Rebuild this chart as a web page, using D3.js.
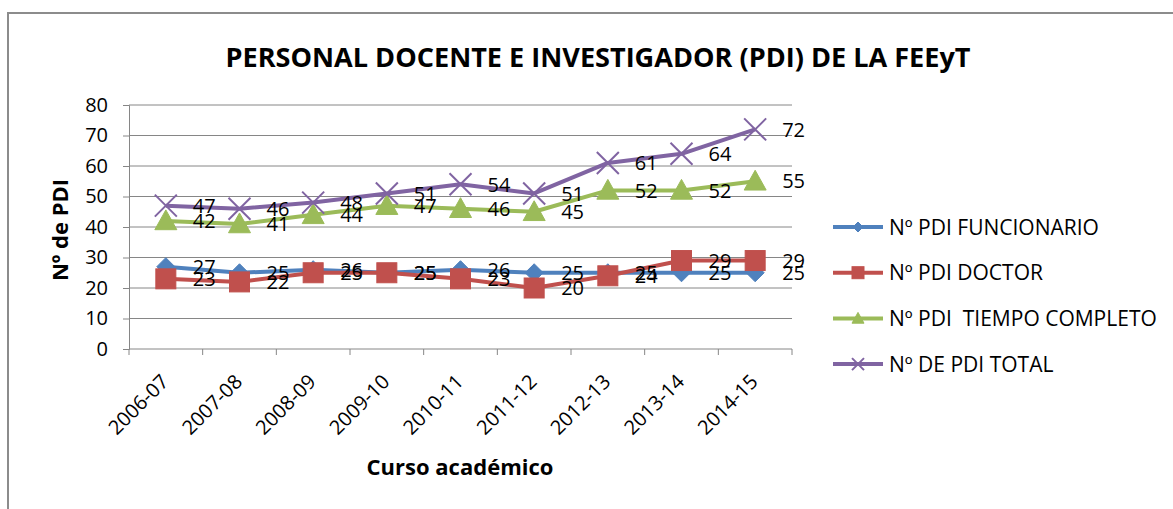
<!DOCTYPE html>
<html>
<head>
<meta charset="utf-8">
<script src="https://cdn.jsdelivr.net/npm/d3@7"></script>
<style>
  body { margin: 0; background: #fff; }
  svg { display: block; font-family: "Open Sans", Lato, sans-serif; }
</style>
</head>
<body>
<svg id="canvas" width="1173" height="509"></svg>
<script>
const cursos = ["2006-07", "2007-08", "2008-09", "2009-10", "2010-11", "2011-12", "2012-13", "2013-14", "2014-15"];
const funcionario = [27, 25, 26, 25, 26, 25, 25, 25, 25];
const doctor = [23, 22, 25, 25, 23, 20, 24, 29, 29];
const tiempoCompleto = [42, 41, 44, 47, 46, 45, 52, 52, 55];
const total = [47, 46, 48, 51, 54, 51, 61, 64, 72];
const yTicks = [0, 10, 20, 30, 40, 50, 60, 70, 80];

const series = [
  { name: "Nº PDI FUNCIONARIO", values: funcionario, color: "#4F81BD", marker: "diamond" },
  { name: "Nº PDI DOCTOR", values: doctor, color: "#C0504D", marker: "square" },
  { name: "Nº PDI  TIEMPO COMPLETO", values: tiempoCompleto, color: "#9BBB59", marker: "triangle" },
  { name: "Nº DE PDI TOTAL", values: total, color: "#8064A2", marker: "cross" },
];

const svg = d3.select("#canvas");
const grey = "#868686";

// outer chart frame (runs off the right/bottom edge like the screenshot)
svg.append("rect")
  .attr("x", 8).attr("y", 13)
  .attr("width", 1200).attr("height", 520)
  .style("fill", "none").style("stroke", "#8c8c8c").style("stroke-width", 2);

const x = d3.scaleBand().domain(cursos).range([129, 792]);
const y = d3.scaleLinear().domain([0, 80]).range([349, 105]);

// gridlines
svg.append("g")
  .selectAll("line")
  .data(yTicks.slice(1))
  .join("line")
  .attr("x1", 129).attr("x2", 792)
  .attr("y1", (d) => y(d)).attr("y2", (d) => y(d))
  .style("stroke", grey).style("stroke-width", 1);

// y axis
const yAxis = svg.append("g")
  .attr("transform", "translate(129,0)")
  .call(d3.axisLeft(y).tickValues(yTicks).tickSize(6).tickPadding(15));
yAxis.attr("font-family", null);
yAxis.select(".domain").style("stroke", grey);
yAxis.selectAll(".tick line").style("stroke", grey);
yAxis.selectAll(".tick text").style("font-size", "20px").style("fill", "#000");

// x axis: ticks at the category boundaries
const xAxisG = svg.append("g").attr("transform", "translate(0,349)");
xAxisG.append("line")
  .attr("x1", 129).attr("x2", 792)
  .style("stroke", grey);
xAxisG.selectAll("line.tk")
  .data(cursos)
  .join("line")
  .attr("class", "tk")
  .attr("x1", (d) => x(d)).attr("x2", (d) => x(d))
  .attr("y1", 0).attr("y2", 6)
  .style("stroke", grey);
xAxisG.append("line")
  .attr("x1", 792).attr("x2", 792).attr("y1", 0).attr("y2", 6)
  .style("stroke", grey);
xAxisG.selectAll("text")
  .data(cursos)
  .join("text")
  .attr("transform", (d) => `translate(${x(d) + x.bandwidth() / 2 + 4},${34}) rotate(-45)`)
  .attr("text-anchor", "end")
  .style("font-size", "20px")
  .text((d) => d);

const cx = (i) => x(cursos[i]) + x.bandwidth() / 2;

const line = d3.line()
  .x((d, i) => cx(i))
  .y((d) => y(d));

function drawMarker(g, kind, color, px, py, s) {
  if (kind === "diamond") {
    g.append("path")
      .attr("d", `M${px},${py - s}L${px + s},${py}L${px},${py + s}L${px - s},${py}Z`)
      .style("fill", color).style("stroke", color);
  } else if (kind === "square") {
    g.append("rect")
      .attr("x", px - s).attr("y", py - s)
      .attr("width", 2 * s).attr("height", 2 * s)
      .style("fill", color).style("stroke", color);
  } else if (kind === "triangle") {
    g.append("path")
      .attr("d", `M${px},${py - s}L${px + s},${py + s * 0.8}L${px - s},${py + s * 0.8}Z`)
      .style("fill", color).style("stroke", color);
  } else {
    g.append("path")
      .attr("d", `M${px - s},${py - s}L${px + s},${py + s}M${px - s},${py + s}L${px + s},${py - s}`)
      .style("fill", "none").style("stroke", color).style("stroke-width", 2);
  }
}

const markerSize = { diamond: 9, square: 10, triangle: 11, cross: 11 };

series.forEach((s) => {
  const g = svg.append("g");
  g.append("path")
    .datum(s.values)
    .attr("d", line)
    .style("fill", "none")
    .style("stroke", s.color)
    .style("stroke-width", 4)
    .style("stroke-linejoin", "round");
  s.values.forEach((v, i) => drawMarker(g, s.marker, s.color, cx(i), y(v), markerSize[s.marker]));
});

// data labels on top
series.forEach((s) => {
  svg.append("g")
    .selectAll("text")
    .data(s.values)
    .join("text")
    .attr("x", (d, i) => cx(i) + 27)
    .attr("y", (d) => y(d))
    .attr("dy", "0.36em")
    .style("font-size", "20px")
    .style("fill", "#000")
    .text((d) => d);
});

// title
svg.append("text")
  .attr("x", 598).attr("y", 67)
  .attr("text-anchor", "middle")
  .attr("textLength", 745).attr("lengthAdjust", "spacingAndGlyphs")
  .style("font-size", "27px").style("font-weight", "bold")
  .text("PERSONAL DOCENTE E INVESTIGADOR (PDI) DE LA FEEyT");

// axis titles
svg.append("text")
  .attr("transform", "translate(68,230) rotate(-90)")
  .attr("text-anchor", "middle")
  .style("font-size", "22px").style("font-weight", "bold")
  .text("Nº de PDI");

svg.append("text")
  .attr("x", 460).attr("y", 475)
  .attr("text-anchor", "middle")
  .style("font-size", "22px").style("font-weight", "bold")
  .text("Curso académico");

// legend
const legend = svg.append("g")
  .selectAll("g")
  .data(series)
  .join("g")
  .attr("transform", (d, i) => `translate(833,${227 + i * 45.7})`);
legend.append("line")
  .attr("x1", 0).attr("x2", 50)
  .style("stroke", (d) => d.color).style("stroke-width", 4);
legend.each(function (d) {
  drawMarker(d3.select(this), d.marker, d.color, 25, 0, d.marker === "diamond" ? 5 : 6);
});
legend.append("text")
  .attr("x", 56).attr("dy", "0.36em")
  .style("font-size", "21px")
  .style("white-space", "pre")
  .text((d) => d.name);
</script>
</body>
</html>
